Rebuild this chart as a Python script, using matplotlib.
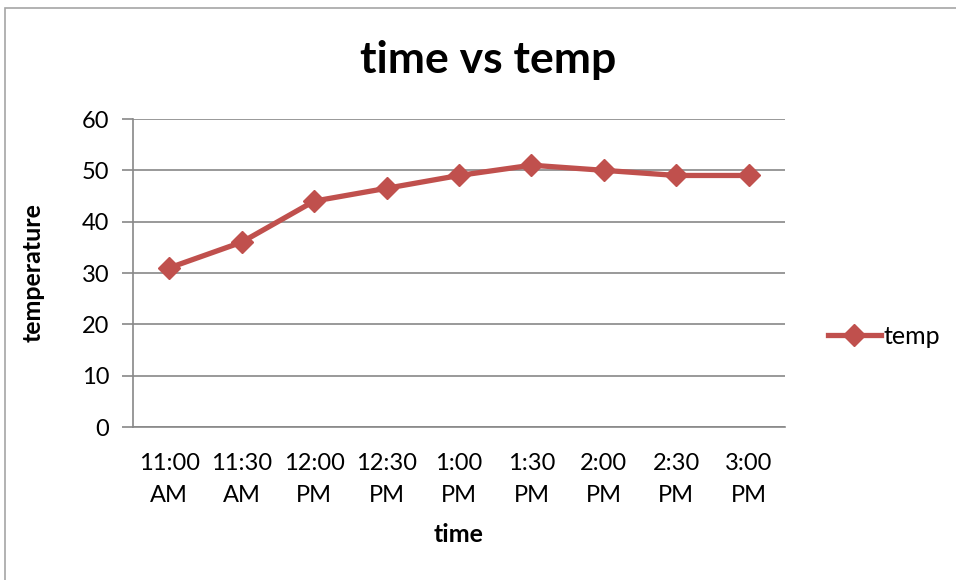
import matplotlib.pyplot as plt
from matplotlib.patches import Rectangle
from matplotlib.lines import Line2D

times = ["11:00\nAM", "11:30\nAM", "12:00\nPM", "12:30\nPM", "1:00\nPM",
         "1:30\nPM", "2:00\nPM", "2:30\nPM", "3:00\nPM"]
temp = [31, 36, 44, 46.5, 49, 51, 50, 49, 49]
yticks = [0, 10, 20, 30, 40, 50, 60]

plt.rcParams['font.family'] = ['Lato', 'DejaVu Sans']
red = "#C0504D"
grey = "#888888"

fig = plt.figure(figsize=(9.56, 5.8), dpi=100)
# outer chart frame (cropped at right/bottom)
fig.patches.append(Rectangle((5/956, -0.1), 1.2, 1 - 8/580 + 0.1, transform=fig.transFigure,
                             fill=False, ec="#a6a6a6", lw=1.2))

ax = fig.add_axes([133/956, 1-427/580, 652/956, 308/580])
x = list(range(len(times)))
ax.plot(x, temp, color=red, lw=3.8, marker="D", ms=11, mec=red, mfc=red, label="temp",
        solid_joinstyle="round", clip_on=False, zorder=3)

ax.set_xlim(-0.5, len(times) - 0.5)
ax.set_ylim(0, 60)
ax.set_yticks(yticks)
ax.set_xticks(x)
ax.set_xticklabels(times, fontsize=17, linespacing=1.6)
ax.tick_params(axis="y", labelsize=17, length=8, width=1.2, color=grey, pad=9)
ax.tick_params(axis="x", length=0, pad=19)
ax.grid(axis="y", color=grey, lw=1.2)
ax.set_axisbelow(True)
for s in ["top", "right"]:
    ax.spines[s].set_visible(False)
for s in ["left", "bottom"]:
    ax.spines[s].set_color(grey)
    ax.spines[s].set_linewidth(1.2)

fig.text(488/956, 1-60/580, "time vs temp", ha="center", va="center", fontsize=32, fontweight="bold")
fig.text(459/956, 1-535/580, "time", ha="center", va="center", fontsize=18, fontweight="bold")
fig.text(33/956, 1-273/580, "temperature", ha="center", va="center", fontsize=18,
         fontweight="bold", rotation=90)

h = Line2D([], [], color=red, lw=3.8, marker="D", ms=11, mfc=red, mec=red)
fig.legend([h], ["temp"], loc="center left", bbox_to_anchor=(818/956, 1-336/580), frameon=False,
           fontsize=18, handlelength=2.1, handletextpad=0.1, borderaxespad=0)

fig.savefig("out.png", dpi=100)
